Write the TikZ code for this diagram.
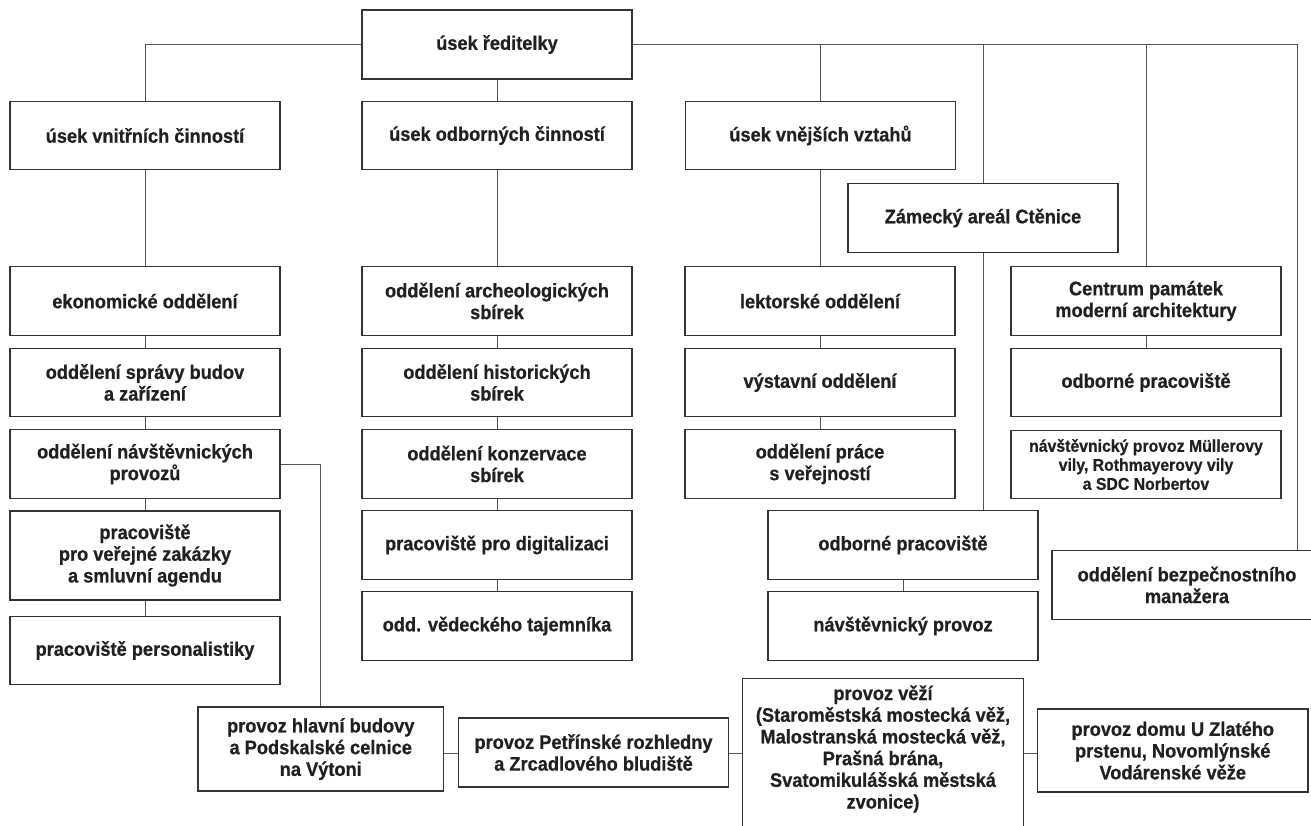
\documentclass[tikz,border=0pt]{standalone}
\usepackage{fontspec}
\setmainfont{Liberation Sans}[FakeStretch=0.93, BoldFeatures={FakeBold=0.6}]
\usetikzlibrary{calc}
\definecolor{txt}{HTML}{231F20}
\definecolor{boxc}{HTML}{333333}
\definecolor{linec}{HTML}{555555}
\tikzset{
  orgbox/.style={draw=boxc, line width=1.4pt, fill=white, text=txt, align=center,
    inner sep=0pt, minimum width=270pt, minimum height=68.5pt,
    font=\fontsize{19.6pt}{21.7pt}\selectfont\bfseries},
  smallbox/.style={orgbox, font=\fontsize{17pt}{19pt}\selectfont\bfseries},
  openbox/.style={orgbox, draw=none, fill=none},
  boxline/.style={draw=boxc, line width=1.4pt},
  conn/.style={draw=linec, line width=1pt}
}
\begin{document}
\begin{tikzpicture}[x=1pt,y=-1pt]
\useasboundingbox (0,0) rectangle (1311,825);
\clip (0,0) rectangle (1311,825);
\fill[white] (0,0) rectangle (1311,825);

\coordinate (rj) at (1297,0);
\coordinate (cy) at (0,753);

% top level
\node[orgbox, minimum height=69pt] (top) at (497,44.5) {úsek ředitelky};

% second level
\node[orgbox] (vnitr) at (145,135.5) {úsek vnitřních činností};
\node[orgbox] (odbor) at (497,135.5) {úsek odborných činností};
\node[orgbox] (vnej) at (820.5,135.5) {úsek vnějších vztahů};
\node[orgbox] (zam) at (983,218) {Zámecký areál Ctěnice};

% column 1
\node[orgbox] (ekon) at (145,301) {ekonomické oddělení};
\node[orgbox] (sprava) at (145,382.5) {oddělení správy budov\\a zařízení};
\node[orgbox] (navst) at (145,464) {oddělení návštěvnických\\provozů};
\node[orgbox, minimum height=89pt] (verej) at (145,555.5) {pracoviště\\pro veřejné zakázky\\a smluvní agendu};
\node[orgbox] (pers) at (145,650.5) {pracoviště personalistiky};

% column 2
\node[orgbox] (arch) at (497,301) {oddělení archeologických\\sbírek};
\node[orgbox] (hist) at (497,382.5) {oddělení historických\\sbírek};
\node[orgbox] (konz) at (497,464) {oddělení konzervace\\sbírek};
\node[orgbox] (digi) at (497,545) {pracoviště pro digitalizaci};
\node[orgbox] (taj) at (497,626) {odd. vědeckého tajemníka};

% column 3
\node[orgbox] (lekt) at (820,301) {lektorské oddělení};
\node[orgbox] (vyst) at (820,382.5) {výstavní oddělení};
\node[orgbox] (prace) at (820,464) {oddělení práce\\s veřejností};

% Zámecký areál
\node[orgbox] (zodb) at (903,545) {odborné pracoviště};
\node[orgbox] (zprov) at (903,626) {návštěvnický provoz};

% Centrum
\node[orgbox] (cent) at (1146,301) {Centrum památek\\moderní architektury};
\node[orgbox] (codb) at (1146,382.5) {odborné pracoviště};
\node[smallbox] (cmul) at (1146,464.5) {návštěvnický provoz Müllerovy\\vily, Rothmayerovy vily\\a SDC Norbertov};

% bezpečnost
\node[orgbox] (bezp) at (1187,585) {oddělení bezpečnostního\\manažera};

% bottom row
\node[orgbox, minimum width=245.5pt, minimum height=84pt] (hlav) at (320.75,749) {provoz hlavní budovy\\a Podskalské celnice\\na Výtoni};
\node[orgbox, minimum height=69pt] (petr) at (593.5,752.5) {provoz Petřínské rozhledny\\a Zrcadlového bludiště};
\node[openbox, minimum width=280pt, minimum height=136pt] (veze) at (883,749) {provoz věží\\(Staroměstská mostecká věž,\\Malostranská mostecká věž,\\Prašná brána,\\Svatomikulášská městská\\zvonice)};
\draw[boxline] ([yshift=-40pt]veze.south west) |- ([yshift=2pt]veze.north east) -- ([yshift=-40pt]veze.south east);
\node[orgbox, minimum width=270.5pt, minimum height=83pt] (zlat) at (1172.75,750.5) {provoz domu U Zlatého\\prstenu, Novomlýnské\\Vodárenské věže};

% connectors
\draw[conn] (vnitr.north) |- (top.west);
\draw[conn] (top.east) -| (rj |- bezp.north);
\draw[conn] (top.south) -- (odbor.north);
\draw[conn] (vnej.north) -- (vnej.north |- top.east);
\draw[conn] (zam.north) -- (zam.north |- top.east);
\draw[conn] (cent.north) -- (cent.north |- top.east);

\draw[conn] (vnitr.south) -- (ekon.north);
\draw[conn] (ekon.south) -- (sprava.north);
\draw[conn] (sprava.south) -- (navst.north);
\draw[conn] (navst.south) -- (verej.north);
\draw[conn] (verej.south) -- (pers.north);

\draw[conn] (odbor.south) -- (arch.north);
\draw[conn] (arch.south) -- (hist.north);
\draw[conn] (hist.south) -- (konz.north);
\draw[conn] (konz.south) -- (digi.north);
\draw[conn] (digi.south) -- (taj.north);

\draw[conn] (vnej.south) -- (vnej.south |- lekt.north);
\draw[conn] (lekt.south) -- (vyst.north);
\draw[conn] (vyst.south) -- (prace.north);

\draw[conn] (zam.south) -- (zam.south |- zodb.north);
\draw[conn] (zodb.south) -- (zprov.north);

\draw[conn] (cent.south) -- (codb.north);

\draw[conn] (navst.east) -| (hlav.north);
\draw[conn] (hlav.east |- cy) -- (petr.west |- cy);
\draw[conn] (petr.east |- cy) -- (veze.west |- cy);
\draw[conn] (veze.east |- cy) -- (zlat.west |- cy);
\end{tikzpicture}
\end{document}
